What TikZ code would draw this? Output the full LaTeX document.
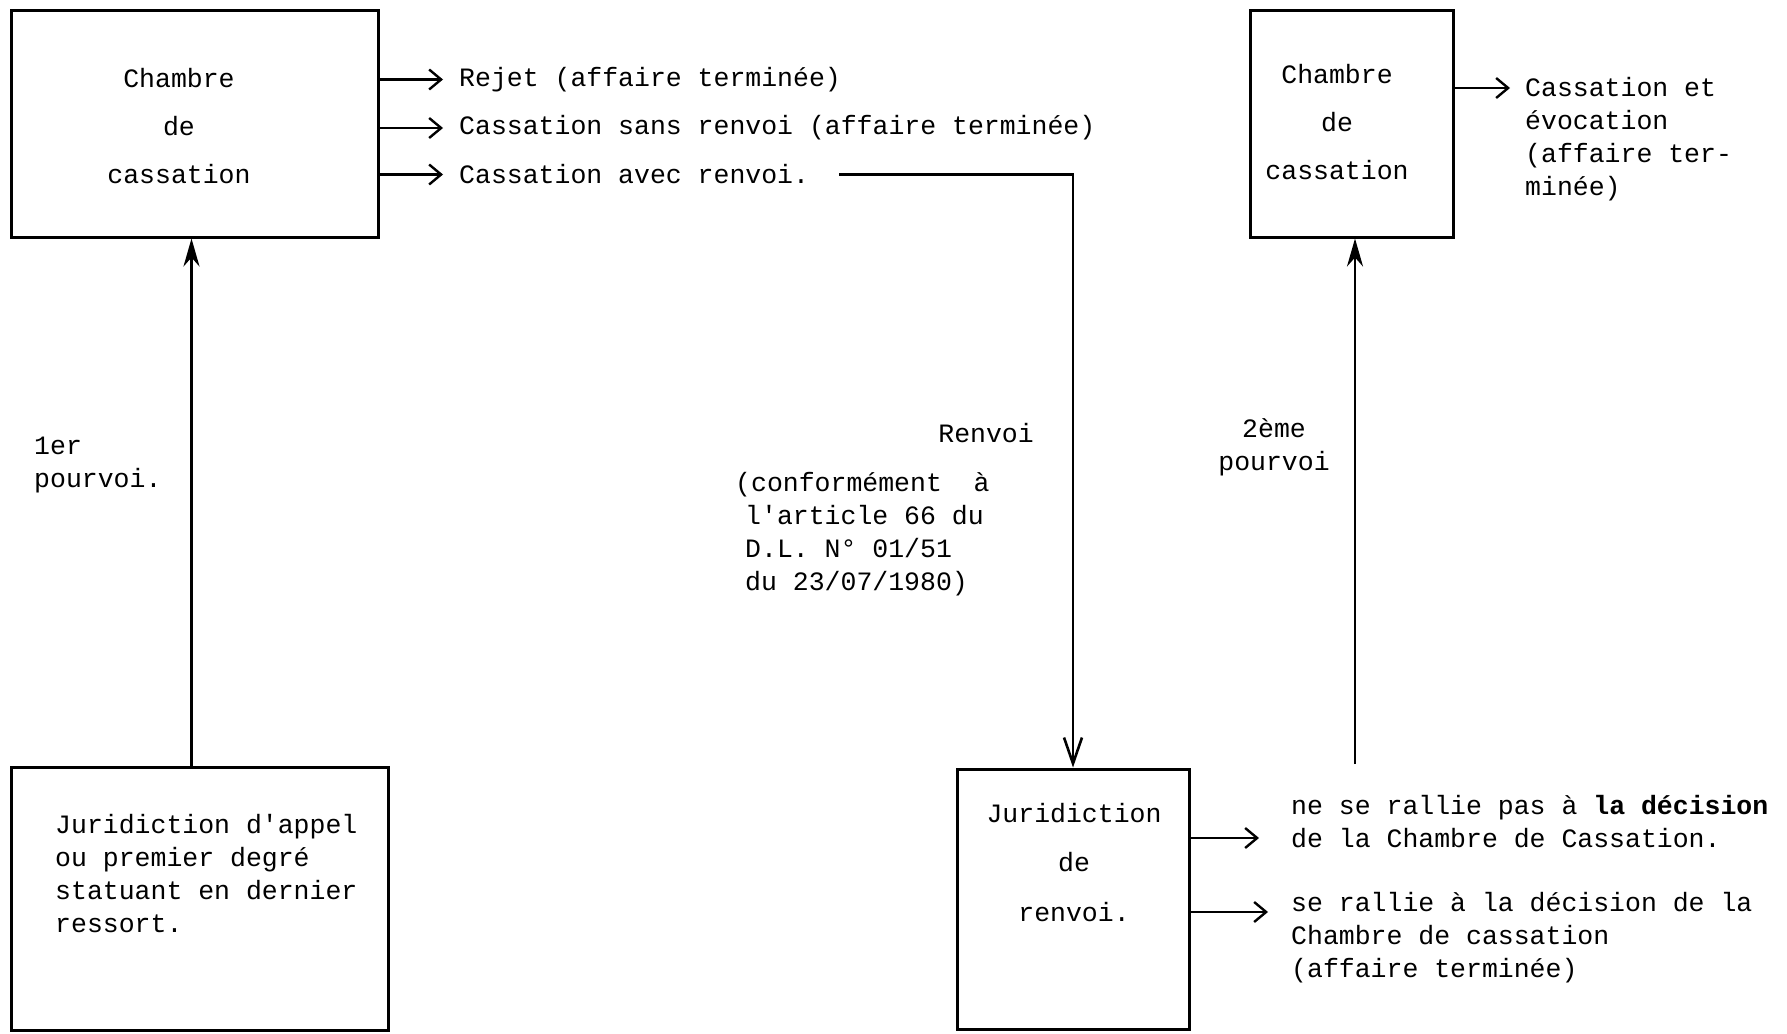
\documentclass[tikz,border=0pt]{standalone}
\usepackage{fontspec}
\setmonofont{Liberation Mono}
\usetikzlibrary{arrows.meta}
\begin{document}
\begin{tikzpicture}[x=1pt,y=-1pt,
  every node/.style={font=\ttfamily\fontsize{26.5}{33}\selectfont, inner sep=0pt},
  box/.style={draw, line width=3pt},
  boxtext/.style={align=center, font=\ttfamily\fontsize{26.5}{48}\selectfont},
  lefttext/.style={align=left, anchor=west},
  harr/.style={line width=2.6pt, -{Straight Barb[length=12pt,width=20pt,line width=2.4pt]}},
  varr/.style={line width=2.8pt, -{Stealth[length=28pt,width=16pt,inset=9pt]}},
  renarr/.style={line width=2.8pt, -{Straight Barb[length=26pt,width=18pt,line width=2.6pt]}}]
\useasboundingbox (0,0) rectangle (1787,1033);

% boxes
\node[box, minimum width=367pt, minimum height=226pt] (b1) at (194.5,124) {};
\node[boxtext] (t1) at (179,126) {Chambre\\de\\cassation};
\node[box, minimum width=203pt, minimum height=226pt] (b2) at (1351.5,124) {};
\node[boxtext] (t2) at (1337,122.5) {Chambre\\de\\cassation};
\node[box, minimum width=377pt, minimum height=263pt] (b3) at (199.5,898.5) {};
\node[lefttext] (t3) at (55,873.5) {Juridiction d'appel\\ou premier degré\\statuant en dernier\\ressort.};
\node[box, minimum width=232pt, minimum height=260pt] (b4) at (1073,899) {};
\node[boxtext, font=\ttfamily\fontsize{26.5}{49.5}\selectfont] (t4) at (1074,862.5) {Juridiction\\de\\renvoi.};

% outcomes of first chamber
\node[lefttext] (r1) at (459,79.5) {Rejet (affaire terminée)};
\node[lefttext] (r2) at (459,128) {Cassation sans renvoi (affaire terminée)};
\node[lefttext] (r3) at (459,174.5) {Cassation avec renvoi.};
\draw[harr] (b1.east |- r1.west) -- ([xshift=-16pt]r1.west);
\draw[harr] (b1.east |- r2.west) -- ([xshift=-16pt]r2.west);
\draw[harr] (b1.east |- r3.west) -- ([xshift=-16pt]r3.west);

% renvoi line
\draw[renarr] ([xshift=30pt]r3.east) -| (b4.north);

% first pourvoi
\draw[varr] ([xshift=-8pt]b3.north) -- ([xshift=-8pt]b3.north |- b1.south);
\node[lefttext] (p1) at (34,465) {1er\\pourvoi.};

% renvoi labels
\node[anchor=east] (rv) at (1034,433) {Renvoi};
\node[lefttext] (cf) at (735,534) {(conformément\ \ à\\\hspace*{10pt}l'article 66 du\\\hspace*{10pt}D.L. N° 01/51\\\hspace*{10pt}du 23/07/1980)};

% second pourvoi
\coordinate (s2) at (1355,764);
\draw[varr] (s2) -- (s2 |- b2.south);
\node[align=center] (p2) at (1274,447) {2ème\\pourvoi};

% second chamber outcome
\node[lefttext] (e1) at (1525,139) {Cassation et\\évocation\\(affaire ter-\\minée)};
\draw[harr] (b2.east |- 0,88) -- (1510,88);

% renvoi jurisdiction outcomes
\node[lefttext] (n1) at (1291,822) {ne se rallie pas à \textbf{la décision}\\de la Chambre de Cassation.};
\node[lefttext] (n2) at (1291,938) {se rallie à la décision de la\\Chambre de cassation\\(affaire terminée)};
\draw[harr] (b4.east |- 0,838) -- ([xshift=-32pt]n1.west |- 0,838);
\draw[harr] (b4.east |- 0,912) -- ([xshift=-23pt]n2.west |- 0,912);
\end{tikzpicture}
\end{document}
